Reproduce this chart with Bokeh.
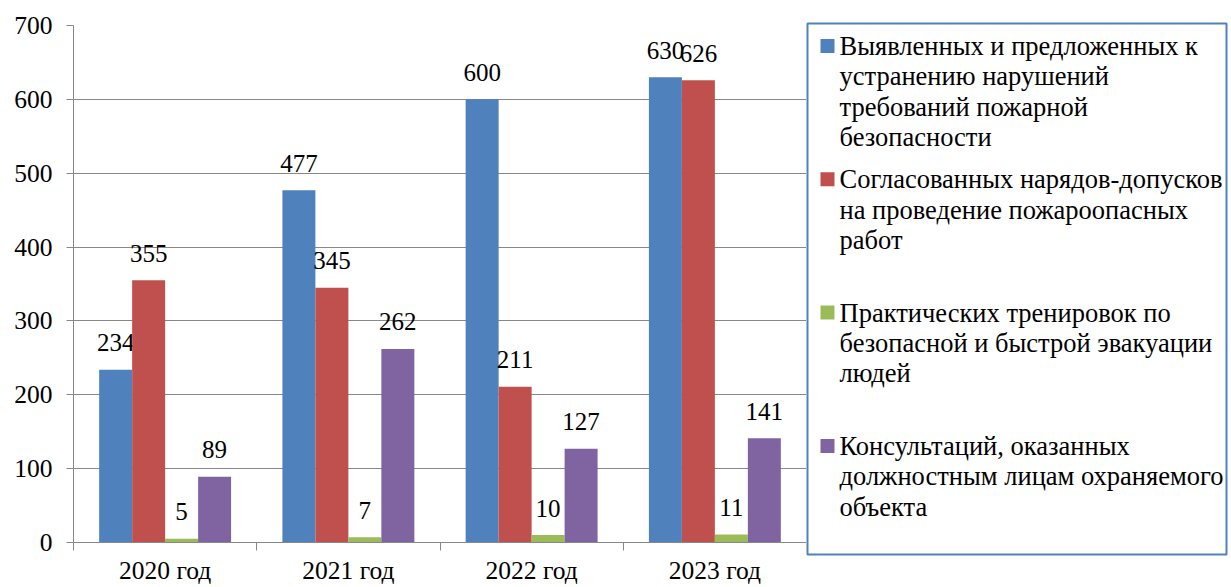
from bokeh.plotting import figure
from bokeh.models import Range1d, FixedTicker
from bokeh.layouts import row
from bokeh.embed import file_html
from bokeh.resources import INLINE
from bokeh.core.properties import value

years = ["2020 год", "2021 год", "2022 год", "2023 год"]
series_names = [
    "Выявленных и предложенных к\nустранению нарушений\nтребований пожарной\nбезопасности",
    "Согласованных нарядов-допусков\nна проведение пожароопасных\nработ",
    "Практических тренировок по\nбезопасной и быстрой эвакуации\nлюдей",
    "Консультаций, оказанных\nдолжностным лицам охраняемого\nобъекта",
]
violations = [234, 477, 600, 630]
permits = [355, 345, 211, 626]
drills = [5, 7, 10, 11]
consultations = [89, 262, 127, 141]
colors = ["#4F81BD", "#C0504D", "#9BBB59", "#8064A2"]
y_ticks = [0, 100, 200, 300, 400, 500, 600, 700]

series = [violations, permits, drills, consultations]
FONT = "Liberation Serif"
GRID = "#888888"

n = len(years)
bar_w = 0.18
p = figure(width=806, height=587, x_range=Range1d(0, n), y_range=Range1d(0, 700),
           output_backend="svg", toolbar_location=None,
           min_border_left=73, min_border_right=0, min_border_top=25, min_border_bottom=44)
p.frame_align = False
p.outline_line_color = None
p.background_fill_color = "white"
p.border_fill_color = "white"

for k, vals in enumerate(series):
    xs = [i + 0.5 + (k - 1.5) * bar_w for i in range(n)]
    p.vbar(x=xs, top=vals, bottom=0, width=bar_w, fill_color=colors[k], line_color=None)
    p.text(x=xs, y=vals, text=[str(v) for v in vals], text_align="center",
           text_baseline="middle", y_offset=-27, text_color="black",
           text_font=value(FONT), text_font_size="25px")

p.xgrid.grid_line_color = None
p.ygrid.ticker = FixedTicker(ticks=y_ticks)
p.ygrid.grid_line_color = GRID
p.ygrid.grid_line_width = 1

p.yaxis.ticker = FixedTicker(ticks=y_ticks)
p.yaxis.axis_line_color = GRID
p.yaxis.major_tick_line_color = GRID
p.yaxis.major_tick_out = 7
p.yaxis.major_tick_in = 0
p.yaxis.minor_tick_line_color = None
p.yaxis.major_label_standoff = 14
p.yaxis.major_label_text_font = FONT
p.yaxis.major_label_text_font_size = "25.5px"
p.yaxis.major_label_text_color = "black"

centers = [i + 0.5 for i in range(n)]
bounds = list(range(n + 1))
p.xaxis.ticker = FixedTicker(ticks=centers, minor_ticks=bounds)
p.xaxis.major_label_overrides = {c: yr for c, yr in zip(centers, years)}
p.xaxis.axis_line_color = GRID
p.xaxis.major_tick_out = 0
p.xaxis.major_tick_in = 0
p.xaxis.minor_tick_out = 8
p.xaxis.minor_tick_in = 0
p.xaxis.minor_tick_line_color = GRID
p.xaxis.major_label_standoff = 5
p.xaxis.major_label_text_font = FONT
p.xaxis.major_label_text_font_size = "25.5px"
p.xaxis.major_label_text_color = "black"

# legend panel
lw, lh = 419, 531
lf = figure(width=425, height=587, x_range=Range1d(0, lw), y_range=Range1d(lh, 0),
            output_backend="svg", toolbar_location=None,
            min_border_left=1, min_border_right=5, min_border_top=23, min_border_bottom=33)
lf.frame_align = False
lf.axis.visible = False
lf.grid.grid_line_color = None
lf.outline_line_color = "#4F81BD"
lf.outline_line_width = 2
lf.background_fill_color = "white"
lf.border_fill_color = "white"

line_step = 30.3
entry_step = 133.3
first_center = 22.5
for k, name in enumerate(series_names):
    c0 = first_center + k * entry_step
    lf.scatter(x=[20], y=[c0], marker="square", size=14,
               fill_color=colors[k], line_color=None)
    lines = name.split("\n")
    lf.text(x=[32] * len(lines), y=[c0 + j * line_step for j in range(len(lines))],
            text=lines, text_align="left", text_baseline="middle", text_color="black",
            text_font=value(FONT), text_font_size="26.5px")

layout = row(p, lf, spacing=0)
open("out.html", "w").write(file_html(layout, INLINE))
